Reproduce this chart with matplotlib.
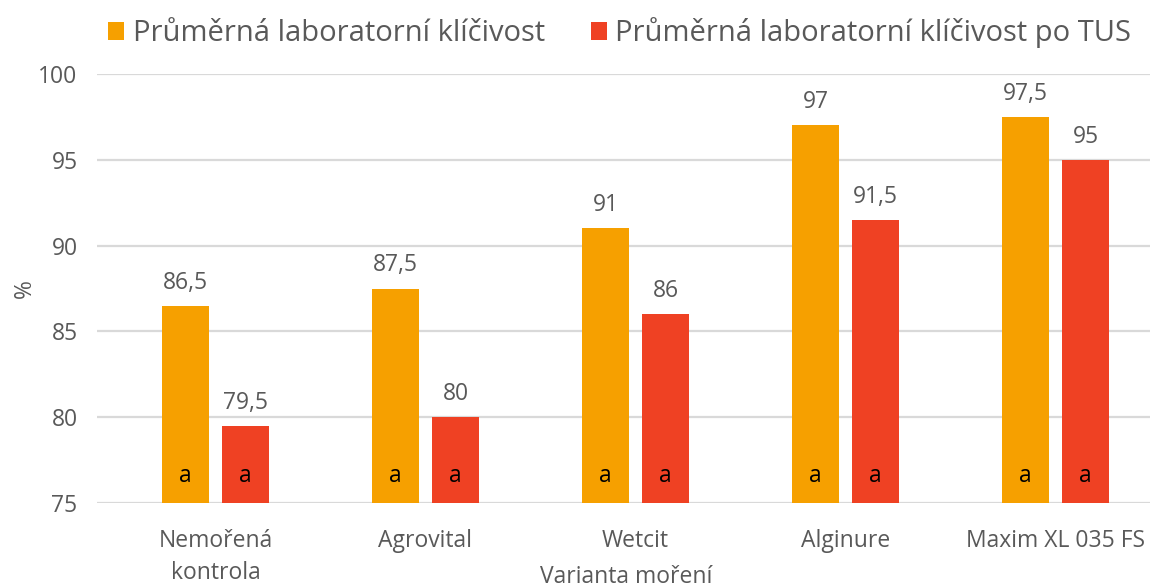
import numpy as np
import matplotlib.pyplot as plt

categories = ['Nemořená\nkontrola', 'Agrovital', 'Wetcit', 'Alginure', 'Maxim XL 035 FS']
lab = [86.5, 87.5, 91, 97, 97.5]
lab_tus = [79.5, 80, 86, 91.5, 95]
letters_lab = ['a', 'a', 'a', 'a', 'a']
letters_tus = ['a', 'a', 'a', 'a', 'a']
series_names = ['Průměrná laboratorní klíčivost', 'Průměrná laboratorní klíčivost po TUS']
yticks = [75, 80, 85, 90, 95, 100]

plt.rcParams['font.family'] = ['Open Sans', 'DejaVu Sans']
txt = '#595959'
orange = '#F6A000'
red = '#EF4123'
fs = 16.5

fig = plt.figure(figsize=(11.5, 5.88), dpi=100)
ax = fig.add_axes([97 / 1150, 1 - 503 / 588, (1150 - 97) / 1150, 429 / 588])

x = np.arange(len(categories))
w = 0.224
off = 0.143
b1 = ax.bar(x - off, np.array(lab) - 75, w, bottom=75, color=orange, label=series_names[0], zorder=3)
b2 = ax.bar(x + off, np.array(lab_tus) - 75, w, bottom=75, color=red, label=series_names[1], zorder=3)

def fmt(v):
    return ('%g' % v).replace('.', ',')

for xi, v, l in zip(x - off, lab, letters_lab):
    ax.text(xi, v + 0.65, fmt(v), ha='center', va='bottom', fontsize=fs, color=txt)
    ax.text(xi, 76.55, l, ha='center', va='center', fontsize=fs, color='black')
for xi, v, l in zip(x + off, lab_tus, letters_tus):
    ax.text(xi, v + 0.65, fmt(v), ha='center', va='bottom', fontsize=fs, color=txt)
    ax.text(xi, 76.55, l, ha='center', va='center', fontsize=fs, color='black')

ax.set_xlim(-0.564, 4.45)
ax.set_ylim(75, 100)
ax.set_yticks(yticks)
ax.yaxis.grid(True, color='#D9D9D9', linewidth=1.6, zorder=0)
ax.set_axisbelow(True)
for s in ax.spines.values():
    s.set_visible(False)
ax.tick_params(axis='both', length=0, labelsize=fs, colors=txt)
ax.tick_params(axis='y', pad=14)
ax.tick_params(axis='x', pad=19)
ax.set_xticks(x)
ax.set_xticklabels(categories, linespacing=1.45)
ax.set_ylabel('%', fontsize=fs, color=txt, labelpad=1)
ax.set_xlabel('Varianta moření', fontsize=fs, color=txt)
ax.xaxis.set_label_coords(0.503, -0.144)

fig.legend(handles=[b1, b2], loc='center', bbox_to_anchor=(0.539, 1 - 33 / 588), ncol=2,
           frameon=False, fontsize=21, labelcolor=txt, handlelength=0.55, handleheight=0.55,
           handletextpad=0.3, columnspacing=1.55)

fig.savefig('out.png', dpi=100)
